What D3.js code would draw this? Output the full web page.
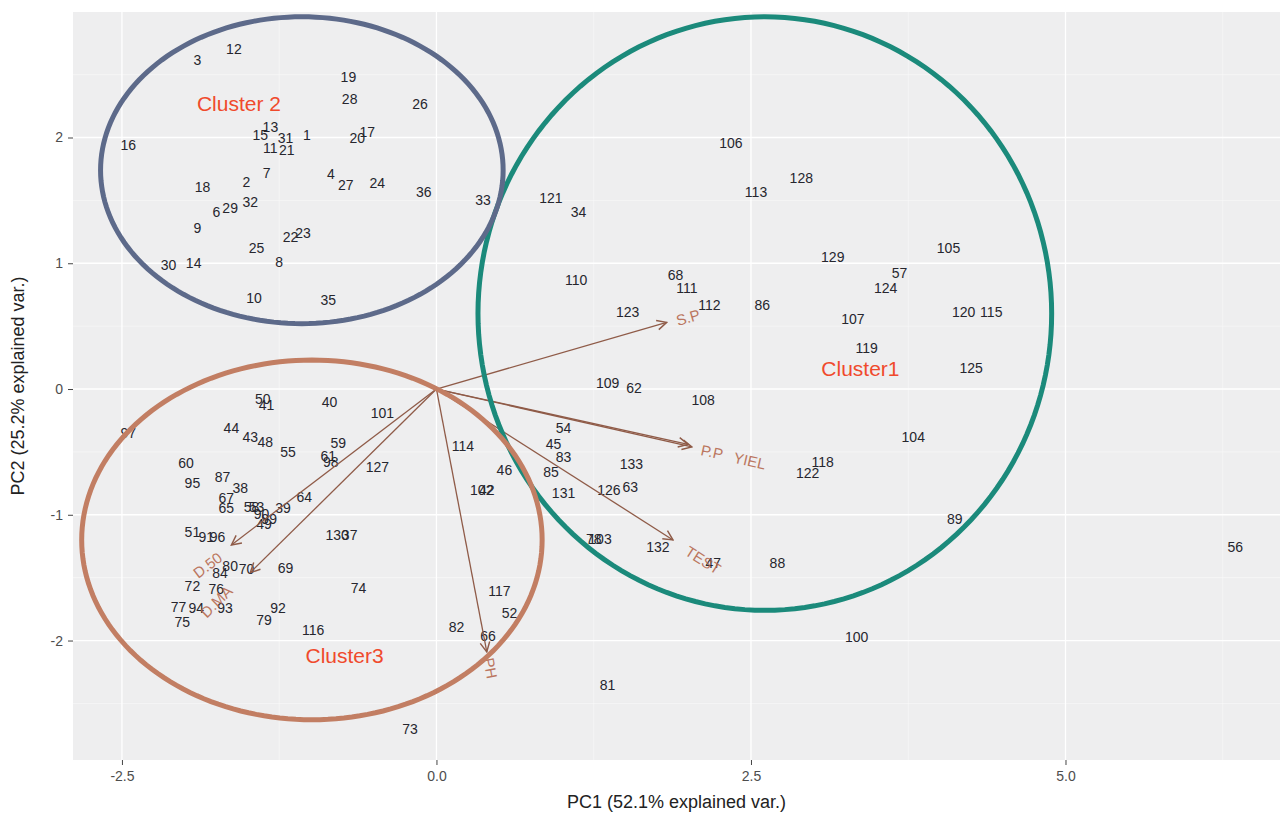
<!DOCTYPE html>
<html>
<head>
<meta charset="utf-8">
<script src="https://cdn.jsdelivr.net/npm/d3@7"></script>
<style>
  body { margin: 0; background: #fff; }
  svg text { font-family: "Liberation Sans", Arial, sans-serif; }
</style>
</head>
<body>
<div id="chart"></div>
<script>
// observation labels and scores (PC1, PC2)
const obsIds = ["3","12","19","28","26","16","15","13","31","1","11","21","20","17","7","2","18","4","27","24","36","33","6","29","32","9","22","23","25","8","30","14","10","35",
  "106","128","113","121","34","129","110","68","111","112","86","123","107","119","109","62","108","105","57","124","120","115","125","104","118","122","89","88","100","56","47","132","133","126","63","131","54","45","83","85","46","102","42","114","101","127","78","103","117","52","82","66","81","73",
  "50","41","40","97","44","43","48","55","59","61","98","60","95","87","38","67","65","58","53","90","99","49","39","64","51","91","96","130","37","84","80","70","69","72","76","74","77","94","93","92","79","75","116"];
const obsPC1 = [-1.90,-1.61,-0.70,-0.69,-0.13,-2.45,-1.40,-1.32,-1.20,-1.03,-1.32,-1.19,-0.63,-0.55,-1.35,-1.51,-1.86,-0.84,-0.72,-0.47,-0.10,0.37,-1.75,-1.64,-1.48,-1.90,-1.16,-1.06,-1.43,-1.25,-2.13,-1.93,-1.45,-0.86,
  2.34,2.90,2.54,0.91,1.13,3.15,1.11,1.90,1.99,2.17,2.59,1.52,3.31,3.42,1.36,1.57,2.12,4.07,3.68,3.57,4.19,4.41,4.25,3.79,3.07,2.95,4.12,2.71,3.34,6.35,2.20,1.76,1.55,1.37,1.54,1.01,1.01,0.93,1.01,0.91,0.54,0.36,0.40,0.21,-0.43,-0.47,1.25,1.30,0.50,0.58,0.16,0.41,1.36,-0.21,
  -1.38,-1.35,-0.85,-2.45,-1.63,-1.48,-1.36,-1.18,-0.78,-0.86,-0.84,-1.99,-1.94,-1.70,-1.56,-1.67,-1.67,-1.47,-1.43,-1.39,-1.33,-1.37,-1.22,-1.05,-1.94,-1.83,-1.74,-0.79,-0.69,-1.72,-1.64,-1.51,-1.20,-1.94,-1.75,-0.62,-2.05,-1.91,-1.68,-1.26,-1.37,-2.02,-0.98];
const obsPC2 = [2.62,2.70,2.48,2.31,2.27,1.94,2.02,2.08,2.00,2.02,1.92,1.90,2.00,2.04,1.72,1.65,1.61,1.71,1.62,1.64,1.57,1.50,1.41,1.44,1.49,1.28,1.21,1.24,1.12,1.01,0.99,1.00,0.72,0.71,
  1.96,1.68,1.57,1.52,1.41,1.05,0.87,0.91,0.80,0.67,0.67,0.61,0.56,0.33,0.05,0.01,-0.09,1.12,0.92,0.80,0.61,0.61,0.17,-0.38,-0.58,-0.67,-1.03,-1.38,-1.97,-1.26,-1.38,-1.26,-0.60,-0.80,-0.78,-0.83,-0.31,-0.44,-0.54,-0.66,-0.64,-0.80,-0.80,-0.45,-0.19,-0.62,-1.19,-1.19,-1.61,-1.78,-1.89,-1.96,-2.35,-2.70,
  -0.08,-0.13,-0.10,-0.35,-0.31,-0.38,-0.42,-0.50,-0.43,-0.53,-0.58,-0.59,-0.75,-0.70,-0.79,-0.87,-0.95,-0.94,-0.94,-0.99,-1.03,-1.07,-0.95,-0.86,-1.14,-1.18,-1.18,-1.16,-1.16,-1.46,-1.41,-1.43,-1.42,-1.57,-1.59,-1.58,-1.73,-1.74,-1.74,-1.74,-1.84,-1.85,-1.92];

// variable loadings (arrow tips) and label positions
const varNames = ["S.P", "P.P", "YIEL", "TEST", "PH", "D.50", "D.MA"];
const varPC1 = [1.83, 2.00, 2.03, 1.88, 0.40, -1.63, -1.48];
const varPC2 = [0.53, -0.44, -0.46, -1.20, -2.09, -1.24, -1.46];
const varLabPC1 = [2.00, 2.19, 2.49, 2.12, 0.43, -1.82, -1.75];
const varLabPC2 = [0.57, -0.50, -0.57, -1.36, -2.22, -1.40, -1.69];

// cluster ellipses: centre and half-axes in PC units
const clusterNames = ["Cluster1", "Cluster 2", "Cluster3"];
const clusterCX = [2.61, -1.07, -0.99];
const clusterCY = [0.60, 1.74, -1.20];
const clusterRX = [2.28, 1.60, 1.83];
const clusterRY = [2.36, 1.22, 1.43];
const clusterColors = ["#1b8a7b", "#5d6a8a", "#c27e63"];
const clusterLabPC1 = [3.37, -1.57, -0.73];
const clusterLabPC2 = [0.16, 2.27, -2.12];

const xTicks = [-2.5, 0, 2.5, 5.0];
const yTicks = [-2, -1, 0, 1, 2];

const W = 1280, H = 822;
const margin = { left: 73, top: 12, right: 0, bottom: 62 };
const svg = d3.select("#chart").append("svg").attr("width", W).attr("height", H);

const x = d3.scaleLinear().domain([-2.889, 6.705]).range([margin.left, W - margin.right]);
const y = d3.scaleLinear().domain([-2.95, 2.998]).range([H - margin.bottom, margin.top]);

// panel
svg.append("rect").attr("x", margin.left).attr("y", margin.top)
  .attr("width", W - margin.right - margin.left).attr("height", H - margin.bottom - margin.top)
  .attr("fill", "#eeeeef");

const grid = svg.append("g");
const xMinor = [-1.25, 1.25, 3.75, 6.25];
const yMinor = [-2.5, -1.5, -0.5, 0.5, 1.5, 2.5];
xMinor.forEach(v => grid.append("line").attr("x1", x(v)).attr("x2", x(v)).attr("y1", margin.top).attr("y2", H - margin.bottom).attr("stroke", "#fafafa").attr("stroke-width", 0.6));
yMinor.forEach(v => grid.append("line").attr("y1", y(v)).attr("y2", y(v)).attr("x1", margin.left).attr("x2", W).attr("stroke", "#fafafa").attr("stroke-width", 0.6));
xTicks.forEach(v => grid.append("line").attr("x1", x(v)).attr("x2", x(v)).attr("y1", margin.top).attr("y2", H - margin.bottom).attr("stroke", "#fff").attr("stroke-width", 1.3));
yTicks.forEach(v => grid.append("line").attr("y1", y(v)).attr("y2", y(v)).attr("x1", margin.left).attr("x2", W).attr("stroke", "#fff").attr("stroke-width", 1.3));

// axes (plain hyphen for negatives, as in the original)
const hyph = f => d => f(d).replace("\u2212", "-");
const xAxis = svg.append("g").attr("transform", `translate(0,${H - margin.bottom})`)
  .call(d3.axisBottom(x).tickValues(xTicks).tickFormat(hyph(d3.format(".1f"))).tickSize(5).tickPadding(6));
const yAxis = svg.append("g").attr("transform", `translate(${margin.left},0)`)
  .call(d3.axisLeft(y).tickValues(yTicks).tickFormat(hyph(d3.format("d"))).tickSize(5).tickPadding(5));
[xAxis, yAxis].forEach(a => {
  a.select(".domain").remove();
  a.selectAll(".tick line").attr("stroke", "#444");
  a.selectAll(".tick text").attr("fill", "#4d4d4d").attr("font-size", "14px")
    .attr("font-family", "Liberation Sans, Arial, sans-serif");
});

svg.append("text").attr("x", (margin.left + W) / 2).attr("y", 808).attr("text-anchor", "middle")
  .attr("font-size", "18px").attr("fill", "#222").text("PC1 (52.1% explained var.)");
svg.append("text").attr("transform", `translate(24,${(margin.top + H - margin.bottom) / 2}) rotate(-90)`)
  .attr("text-anchor", "middle").attr("font-size", "18px").attr("fill", "#222").text("PC2 (25.2% explained var.)");

// observation labels
const plot = svg.append("g");
plot.selectAll("text.obs").data(obsIds).enter().append("text").attr("class", "obs")
  .attr("x", (d, i) => x(obsPC1[i])).attr("y", (d, i) => y(obsPC2[i]))
  .attr("text-anchor", "middle").attr("dominant-baseline", "central")
  .attr("font-size", "14px").attr("fill", "#26262e").text(d => d);

// variable arrows
svg.append("defs").append("marker").attr("id", "arr")
  .attr("viewBox", "0 0 10 10").attr("refX", 9).attr("refY", 5)
  .attr("markerWidth", 12).attr("markerHeight", 12).attr("markerUnits", "userSpaceOnUse")
  .attr("orient", "auto")
  .append("path").attr("d", "M1,1 L9,5 L1,9").attr("fill", "none").attr("stroke", "#8f5b48").attr("stroke-width", 1.2);

plot.selectAll("line.var").data(varNames).enter().append("line").attr("class", "var")
  .attr("x1", x(0)).attr("y1", y(0))
  .attr("x2", (d, i) => x(varPC1[i])).attr("y2", (d, i) => y(varPC2[i]))
  .attr("stroke", "#8f5b48").attr("stroke-width", 1.3).attr("marker-end", "url(#arr)");

plot.selectAll("text.var").data(varNames).enter().append("text").attr("class", "var")
  .attr("transform", (d, i) => {
    const px = x(varLabPC1[i]), py = y(varLabPC2[i]);
    let ang = Math.atan2(y(varPC2[i]) - y(0), x(varPC1[i]) - x(0)) * 180 / Math.PI;
    if (ang > 90) ang -= 180;
    if (ang < -90) ang += 180;
    return `translate(${px},${py}) rotate(${ang})`;
  })
  .attr("text-anchor", "middle").attr("dominant-baseline", "central")
  .attr("font-size", "15px").attr("fill", "#b66a50").attr("opacity", 0.9).text(d => d);

// cluster ellipses
const ellipse = d3.line().curve(d3.curveLinearClosed);
const angles = d3.range(0, 360, 2).map(a => a * Math.PI / 180);
clusterNames.forEach((c, k) => {
  plot.append("path")
    .attr("d", ellipse(angles.map(t => [x(clusterCX[k] + clusterRX[k] * Math.cos(t)), y(clusterCY[k] + clusterRY[k] * Math.sin(t))])))
    .attr("fill", "none").attr("stroke", clusterColors[k]).attr("stroke-width", 5);
});

plot.selectAll("text.cl").data(clusterNames).enter().append("text").attr("class", "cl")
  .attr("x", (d, i) => x(clusterLabPC1[i])).attr("y", (d, i) => y(clusterLabPC2[i]))
  .attr("text-anchor", "middle").attr("dominant-baseline", "central")
  .attr("font-size", "21px").attr("fill", "#f04a2c").text(d => d);
</script>
</body>
</html>
